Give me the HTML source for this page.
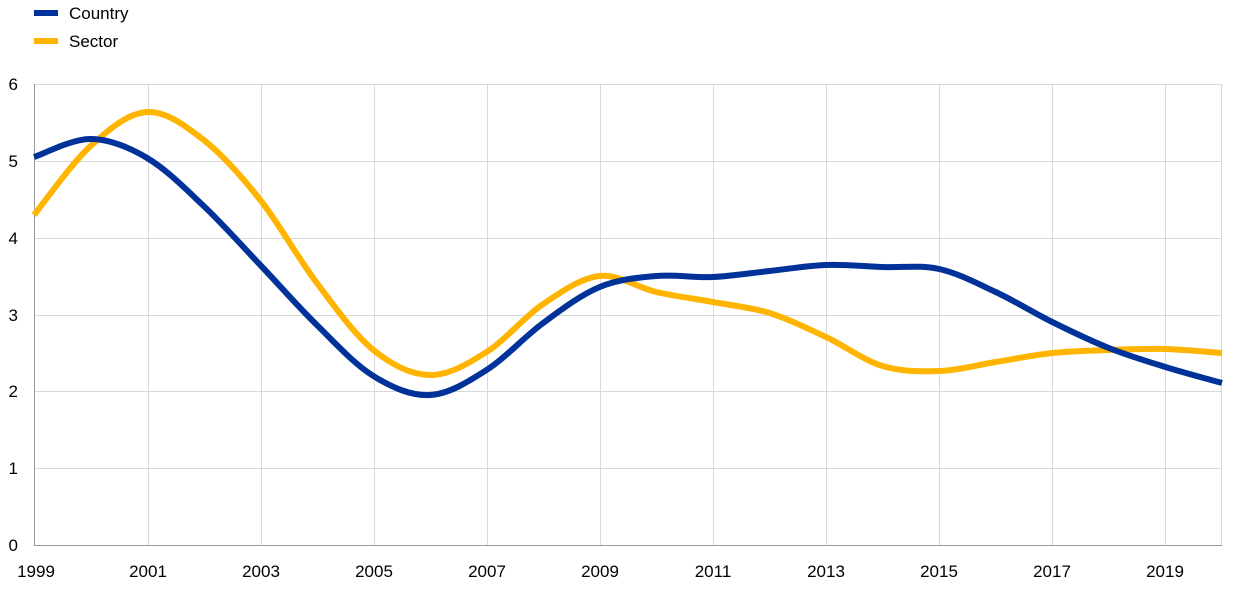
<!DOCTYPE html>
<html><head><meta charset="utf-8">
<style>
body{margin:0;background:#fff;}
svg{display:block;font-family:"Liberation Sans",Arial,sans-serif;}
</style></head>
<body>
<svg id="c" width="1240" height="591" viewBox="0 0 1240 591">
<g stroke="#d9d9d9" stroke-width="1">
<line x1="34" y1="84.5" x2="1222" y2="84.5"/>
<line x1="34" y1="161.5" x2="1222" y2="161.5"/>
<line x1="34" y1="238.5" x2="1222" y2="238.5"/>
<line x1="34" y1="315.5" x2="1222" y2="315.5"/>
<line x1="34" y1="391.5" x2="1222" y2="391.5"/>
<line x1="34" y1="468.5" x2="1222" y2="468.5"/>
<line x1="148.5" y1="84" x2="148.5" y2="545"/>
<line x1="261.5" y1="84" x2="261.5" y2="545"/>
<line x1="374.5" y1="84" x2="374.5" y2="545"/>
<line x1="487.5" y1="84" x2="487.5" y2="545"/>
<line x1="600.5" y1="84" x2="600.5" y2="545"/>
<line x1="713.5" y1="84" x2="713.5" y2="545"/>
<line x1="826.5" y1="84" x2="826.5" y2="545"/>
<line x1="939.5" y1="84" x2="939.5" y2="545"/>
<line x1="1052.5" y1="84" x2="1052.5" y2="545"/>
<line x1="1165.5" y1="84" x2="1165.5" y2="545"/>
<line x1="1221.5" y1="84" x2="1221.5" y2="545"/>
</g>
<line x1="34" y1="545.5" x2="1222" y2="545.5" stroke="#999" stroke-width="1"/>
<line x1="34.5" y1="84" x2="34.5" y2="545" stroke="#999" stroke-width="1"/>
<g font-size="17" fill="#000" text-anchor="end">
<text x="18" y="90">6</text><text x="18" y="167">5</text><text x="18" y="244">4</text>
<text x="18" y="321">3</text><text x="18" y="397">2</text><text x="18" y="474">1</text><text x="18" y="551">0</text>
</g>
<g font-size="17" fill="#000" text-anchor="middle">
<text x="36" y="577">1999</text><text x="148" y="577">2001</text><text x="261" y="577">2003</text>
<text x="374" y="577">2005</text><text x="487" y="577">2007</text><text x="600" y="577">2009</text>
<text x="713" y="577">2011</text><text x="826" y="577">2013</text><text x="939" y="577">2015</text>
<text x="1052" y="577">2017</text><text x="1165" y="577">2019</text>
</g>
<line x1="34" y1="13" x2="58" y2="13" stroke="#003299" stroke-width="6"/>
<text x="69" y="19" font-size="17">Country</text>
<line x1="34" y1="41" x2="58" y2="41" stroke="#ffb400" stroke-width="6"/>
<text x="69" y="47" font-size="17">Sector</text>
<path id="s" fill="none" stroke="#ffb400" stroke-width="6" stroke-linejoin="round"/>
<path id="k" fill="none" stroke="#003299" stroke-width="6" stroke-linejoin="round"/>
</svg>
<script>
function cr(p){var d="M"+p[0][0]+","+p[0][1];for(var i=0;i<p.length-1;i++){var a=p[i-1]||p[i],b=p[i],c=p[i+1],e=p[i+2]||c;
d+=" C"+(b[0]+(c[0]-a[0])/6)+","+(b[1]+(c[1]-a[1])/6)+" "+(c[0]-(e[0]-b[0])/6)+","+(c[1]-(e[1]-b[1])/6)+" "+c[0]+","+c[1];}return d;}
var xs=[];for(var i=0;i<=21;i++)xs.push(34+i*56.57);
var ky=[157,139,158,206,265,325,376,395,370,323,287,276,277,271,265,267,269,292,322,348,367,383];
var sy=[215,146,112,140,200,283,350,375,352,304,276,292,302,313,337,366,371,362,353,350,349,353];
document.getElementById("k").setAttribute("d",cr(ky.map(function(y,i){return[xs[i],y]})));
document.getElementById("s").setAttribute("d",cr(sy.map(function(y,i){return[xs[i],y]})));
</script>
</body></html>
